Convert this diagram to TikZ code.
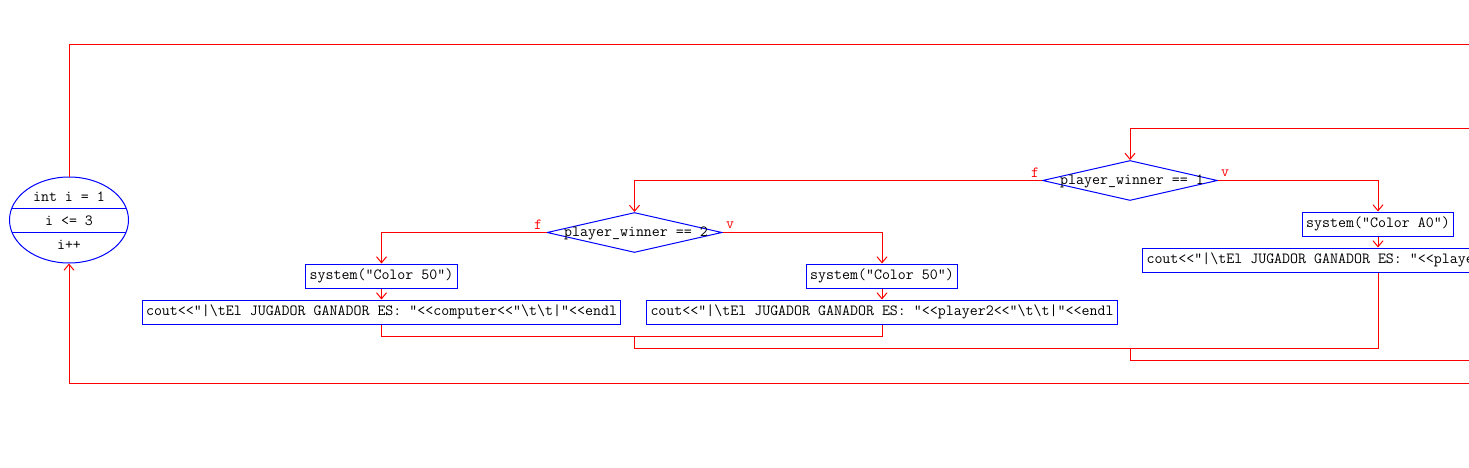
\documentclass[tikz,border=0pt]{standalone}
\usepackage{fontspec}
\setmonofont{Latin Modern Mono}[Ligatures=TeXOff]
\usetikzlibrary{shapes.geometric,arrows.meta}
\newcommand\codefont{\ttfamily\fontsize{15.5}{18}\selectfont}
\newcommand\bsl{\textbackslash}
\tikzset{
 ln/.style={red, line width=1pt},
 arr/.style={ln, -{Straight Barb[length=6pt,width=10pt]}},
 box/.style={draw=blue, line width=1pt, fill=white, inner xsep=4pt, inner ysep=0pt, minimum height=24pt, font=\codefont, text height=10pt, text depth=3pt},
 dia/.style={draw=blue, line width=1pt, diamond, inner sep=0pt, minimum width=175pt, minimum height=40pt},
 lbl/.style={font=\codefont, text=red, inner sep=0pt},
 txt/.style={font=\codefont, inner sep=0pt}
}
\begin{document}
\begin{tikzpicture}[x=1pt,y=-1pt]
\useasboundingbox (0,0) rectangle (1469,468);
\clip (0,0) rectangle (1469,468);
% loop ellipse
\node[draw=blue,line width=1pt,ellipse,minimum width=119pt,minimum height=86pt,inner sep=0pt] (ell) at (69,220) {};
\draw[blue,line width=1pt] (11.9,208) -- (126.1,208) (11.9,232) -- (126.1,232);
\node[txt] at (69,197) {int i = 1};
\node[txt] at (69,221) {i <= 3};
\node[txt] at (69,245) {i++};
% free ends
\coordinate (rtop) at (1480,44.5);
\coordinate (rbot) at (1480,383.5);
\coordinate (rin) at (1480,128.5);
\coordinate (rout) at (1480,360.5);
% decisions
\node[dia] (d1) at (1130,180.5) {};
\node[txt] at (1132,181) {player\_winner == 1};
\node[dia] (d2) at (634.5,232.5) {};
\node[txt] at (636,233) {player\_winner == 2};
\node[lbl] at (1035,173) {f};
\node[lbl] at (1225,173) {v};
\node[lbl] at (538,225) {f};
\node[lbl] at (730,225) {v};
% boxes
\node[box] (s1) at (1378,224) {system("Color A0")};
\node[box] (c1) at (1378,260) {cout<<"|\bsl tEl JUGADOR GANADOR ES: "<<player1<<"\bsl t\bsl t|"<<endl};
\node[box] (s2) at (381.5,276) {system("Color 50")};
\node[box] (c2) at (381.5,312) {cout<<"|\bsl tEl JUGADOR GANADOR ES: "<<computer<<"\bsl t\bsl t|"<<endl};
\node[box] (s3) at (882,276) {system("Color 50")};
\node[box] (c3) at (882,312) {cout<<"|\bsl tEl JUGADOR GANADOR ES: "<<player2<<"\bsl t\bsl t|"<<endl};
% connectors
\draw[ln] (ell.north) |- (rtop);
\draw[arr] (rbot) -| (ell.south);
\draw[arr] (rin) -| (d1.north);
\draw[arr] (d1.west) -| (d2.north);
\draw[arr] (d1.east) -| (s1.north);
\draw[arr] (s1) -- (c1);
\draw[arr] (d2.west) -| (s2.north);
\draw[arr] (s2) -- (c2);
\draw[arr] (d2.east) -| (s3.north);
\draw[arr] (s3) -- (c3);
\coordinate (j3) at (634.5,336.5);
\coordinate (j1) at (634.5,348.5);
\coordinate (j2) at (1130,348.5);
\draw[ln] (c2.south) |- (j3) -| (c3.south);
\draw[ln] (j3) -- (j1);
\draw[ln] (c1.south) |- (j1);
\draw[ln] (j2) |- (rout);
\end{tikzpicture}
\end{document}
